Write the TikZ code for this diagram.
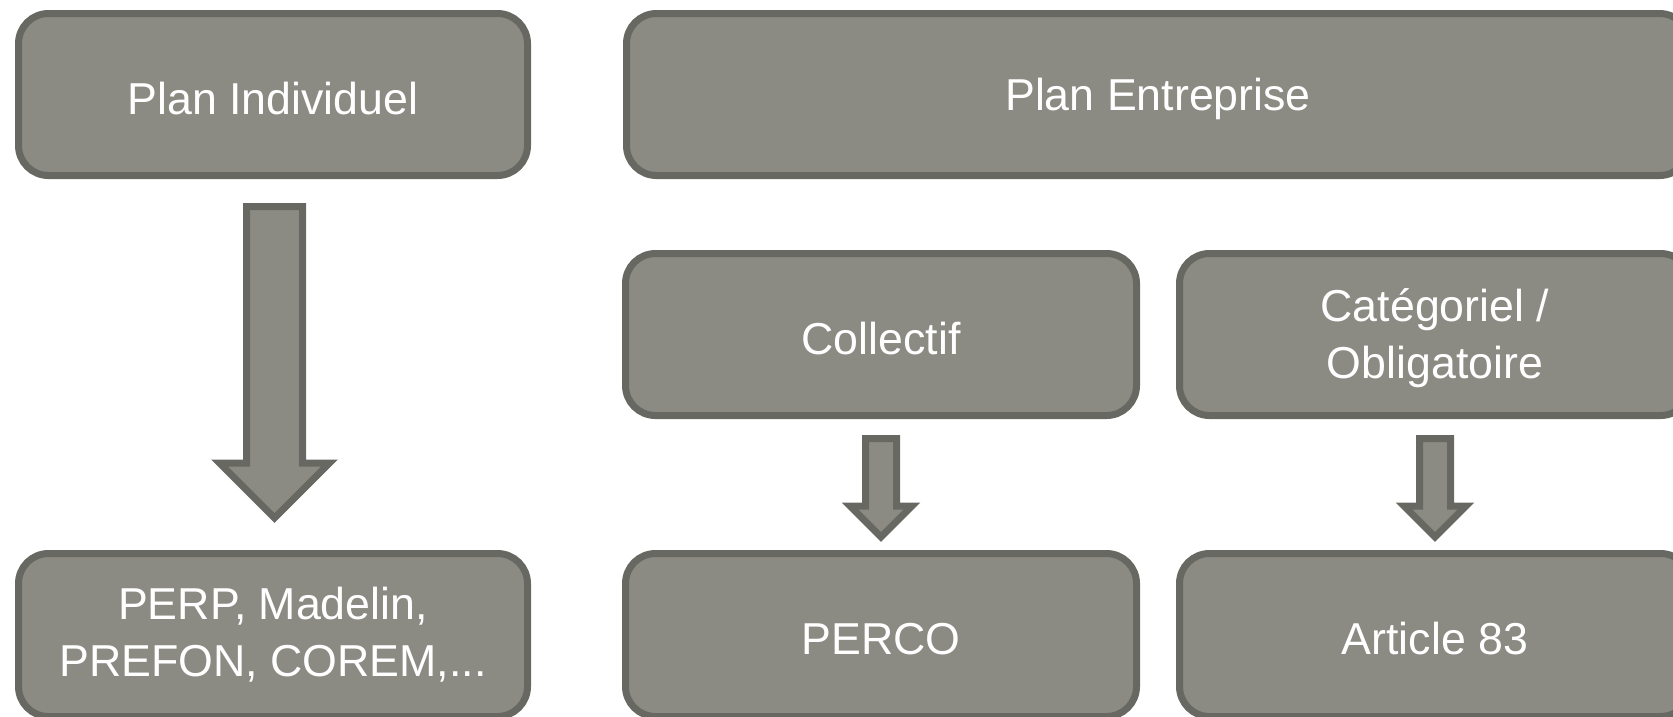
\documentclass[tikz,border=0pt]{standalone}
\usepackage{fontspec}
\setmainfont{Liberation Sans}
\usetikzlibrary{calc}
\definecolor{boxfill}{RGB}{139,139,132}
\definecolor{boxline}{RGB}{104,104,98}
\tikzset{
  box/.style={draw=boxline, fill=boxfill, line width=7pt, rounded corners=30pt, inner sep=0pt},
  boxtext/.style={text=white, align=center, inner sep=0pt, yshift=-4pt,
    font=\fontsize{44.7pt}{57pt}\selectfont},
  blockarrow/.style={draw=boxline, fill=boxfill, line width=7pt, miter limit=10, line join=miter}
}
\newcommand\blockarr[5]{%
  \draw[blockarrow] ($(#1)+(-#3,0)$) -- ($(#1)+(#3,0)$) -- ($(#2)+(#3,-#5)$) -- ($(#2)+(#4,-#5)$) -- (#2) -- ($(#2)+(-#4,-#5)$) -- ($(#2)+(-#3,-#5)$) -- cycle;}
\begin{document}
\begin{tikzpicture}[x=1pt,y=-1pt]
\useasboundingbox (0,0) rectangle (1673,716);
\clip (0,0) rectangle (1673,716);
\node[box, minimum width=509pt, minimum height=162pt, label={[boxtext]center:Plan Individuel}] (pi) at (273,94.5) {};
\node[box, minimum width=1063pt, minimum height=162pt, label={[boxtext]center:Plan Entreprise}] (pe) at (1158,94.5) {};
\node[box, minimum width=511pt, minimum height=162pt, label={[boxtext]center:Collectif}] (col) at (881,334.5) {};
\node[box, minimum width=511pt, minimum height=162pt, label={[boxtext]center:Catégoriel /\\Obligatoire}] (cat) at (1435,334.5) {};
\node[box, minimum width=509pt, minimum height=163pt, label={[boxtext,yshift=4pt]center:PERP, Madelin,\\PREFON, COREM,...}] (perp) at (273,635) {};
\node[box, minimum width=511pt, minimum height=163pt, label={[boxtext]center:PERCO}] (perco) at (881,635) {};
\node[box, minimum width=511pt, minimum height=163pt, label={[boxtext]center:Article 83}] (art) at (1435,635) {};
\coordinate (a1s) at ($(pi.south)+(1.5,27.5)$);
\coordinate (a1e) at ($(perp.north)+(1.5,-32)$);
\coordinate (a2s) at ($(col.south)+(0,19.5)$);
\coordinate (a2e) at ($(perco.north)+(0,-13)$);
\coordinate (a3s) at ($(cat.south)+(0,19.5)$);
\coordinate (a3e) at ($(art.north)+(0,-13)$);
\blockarr{a1s}{a1e}{28}{55}{55}
\blockarr{a2s}{a2e}{15.5}{31}{31}
\blockarr{a3s}{a3e}{15.5}{31}{31}
\end{tikzpicture}
\end{document}
